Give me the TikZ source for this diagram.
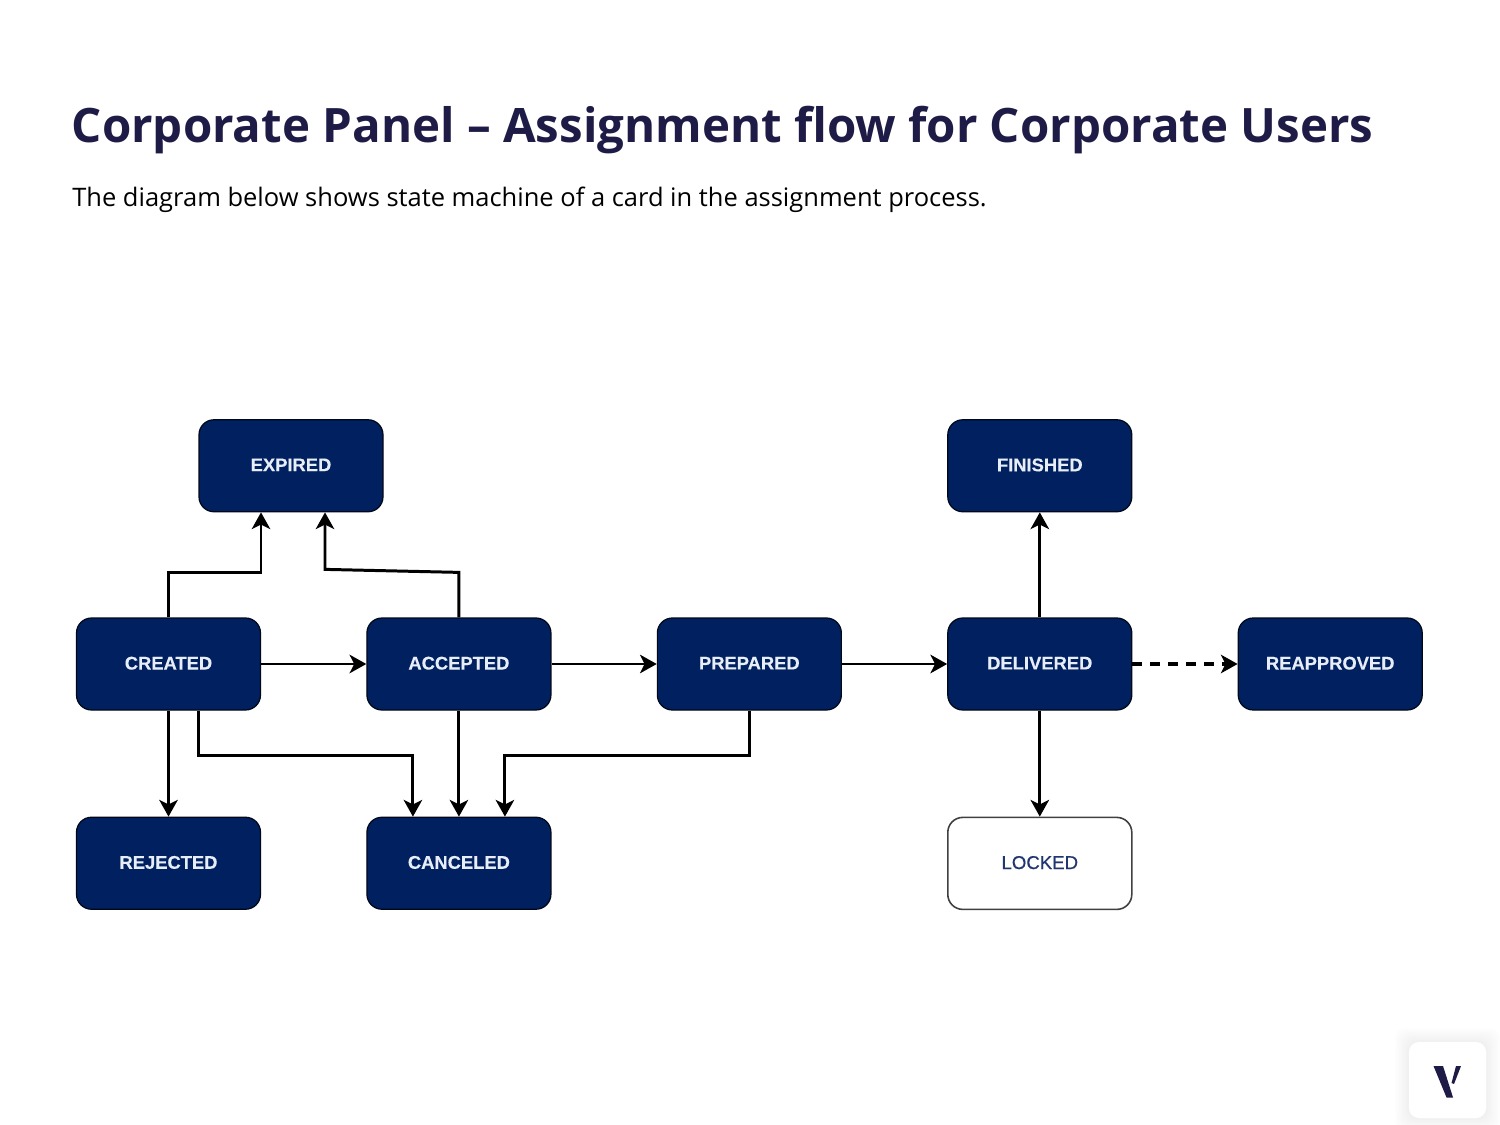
\documentclass[tikz,border=0pt]{standalone}
\usepackage{fontspec}
\setmainfont{Open Sans}
\newfontfamily\boxfont[FakeBold=0.25]{Liberation Sans Bold}
\newfontfamily\lockfont[FakeBold=0.5]{Liberation Sans}
\usepackage{xcolor}
\usetikzlibrary{arrows.meta, positioning}
\definecolor{navy}{RGB}{0,32,96}
\definecolor{titleink}{RGB}{30,27,70}
\definecolor{boxtext}{RGB}{232,238,248}
\definecolor{locktext}{RGB}{32,54,112}

\begin{document}
\begin{tikzpicture}[
      node distance=2.12cm and 2.104cm,
      state/.style={draw=black!75!navy, rounded corners=0.3cm, minimum height=1.84cm, minimum width=3.68cm, align=center, text depth=1pt, font=\boxfont\fontsize{10.45}{12}\selectfont, fill=navy, text=boxtext, line width=0.7pt},
      openstate/.style={state, draw=black!75, fill=white, text=locktext, line width=0.9pt, font=\lockfont\fontsize{10.6}{12}\selectfont},
      arr/.style={-{Stealth[length=9.5pt, width=10.5pt, inset=2.6pt]}, line width=1.7pt, black}
    ]
    \useasboundingbox (0,0) rectangle (30,-22.5);

    \node[anchor=base west, inner sep=0pt, text=titleink, font=\fontsize{27}{32}\selectfont\bfseries] (title) at (1.43,-2.86) {Corporate Panel -- Assignment flow for Corporate Users};
    \node[anchor=base west, inner sep=0pt, font=\fontsize{14.5}{18}\selectfont] (subtitle) at (1.44,-4.14) {The diagram below shows state machine of a card in the assignment process.};

    % middle row
    \node[state] (created) at (3.37,-13.28) {CREATED};
    \node[state, right=of created] (accepted) {ACCEPTED};
    \node[state, right=of accepted] (prepared) {PREPARED};
    \node[state, right=of prepared] (delivered) {DELIVERED};
    \node[state, right=of delivered] (reapproved) {REAPPROVED};
    % top and bottom rows
    \node[state, above=2.1cm of created, xshift=2.45cm] (expired) {EXPIRED};
    \node[state, above=2.1cm of delivered] (finished) {FINISHED};
    \node[state, below=of created] (rejected) {REJECTED};
    \node[state, below=of accepted] (canceled) {CANCELED};
    \node[openstate, below=of delivered] (locked) {LOCKED};

    \draw[arr] (created) -- (accepted);
    \draw[arr] (accepted) -- (prepared);
    \draw[arr] (prepared) -- (delivered);
    \draw[arr, line width=2.1pt, dash pattern=on 5.7pt off 4.5pt] (delivered) -- (reapproved);
    \draw[arr] (delivered) -- (finished);
    \draw[arr] (delivered) -- (locked);
    \draw[arr] (created) -- (rejected);
    \draw[arr] (accepted) -- (canceled);
    \draw[arr] (created.north) -- ++(0,0.9) -| ([xshift=-0.6cm]expired.south);
    \draw[arr] (accepted.north) -- ++(0,0.9) -- ([xshift=0.68cm,yshift=-1.14cm]expired.south) -- ([xshift=0.68cm]expired.south);
    \draw[arr] ([xshift=0.6cm]created.south) -- ++(0,-0.9) -| ([xshift=-0.92cm]canceled.north);
    \draw[arr] (prepared.south) -- ++(0,-0.9) -| ([xshift=0.92cm]canceled.north);

    % badge in the corner
    \foreach \s in {14,12,...,2} {
      \fill[black, opacity=0.006, rounded corners=0.2cm] (28.18-\s*0.02,-20.84+\s*0.02) rectangle (29.72+\s*0.02,-22.36-\s*0.02);
    }
    \node[fill=white, rounded corners=0.2cm, minimum width=1.54cm, minimum height=1.52cm, inner sep=0pt] (badge) at (28.95,-21.6) {};
    \fill[titleink] (28.67,-21.32) -- (28.86,-21.32) -- (29.06,-21.95) -- (28.93,-21.95) -- cycle;
    \fill[titleink] (29.22,-21.32) -- (29.12,-21.32) -- (29.03,-21.66) -- (29.08,-21.68) -- cycle;
\end{tikzpicture}
\end{document}
